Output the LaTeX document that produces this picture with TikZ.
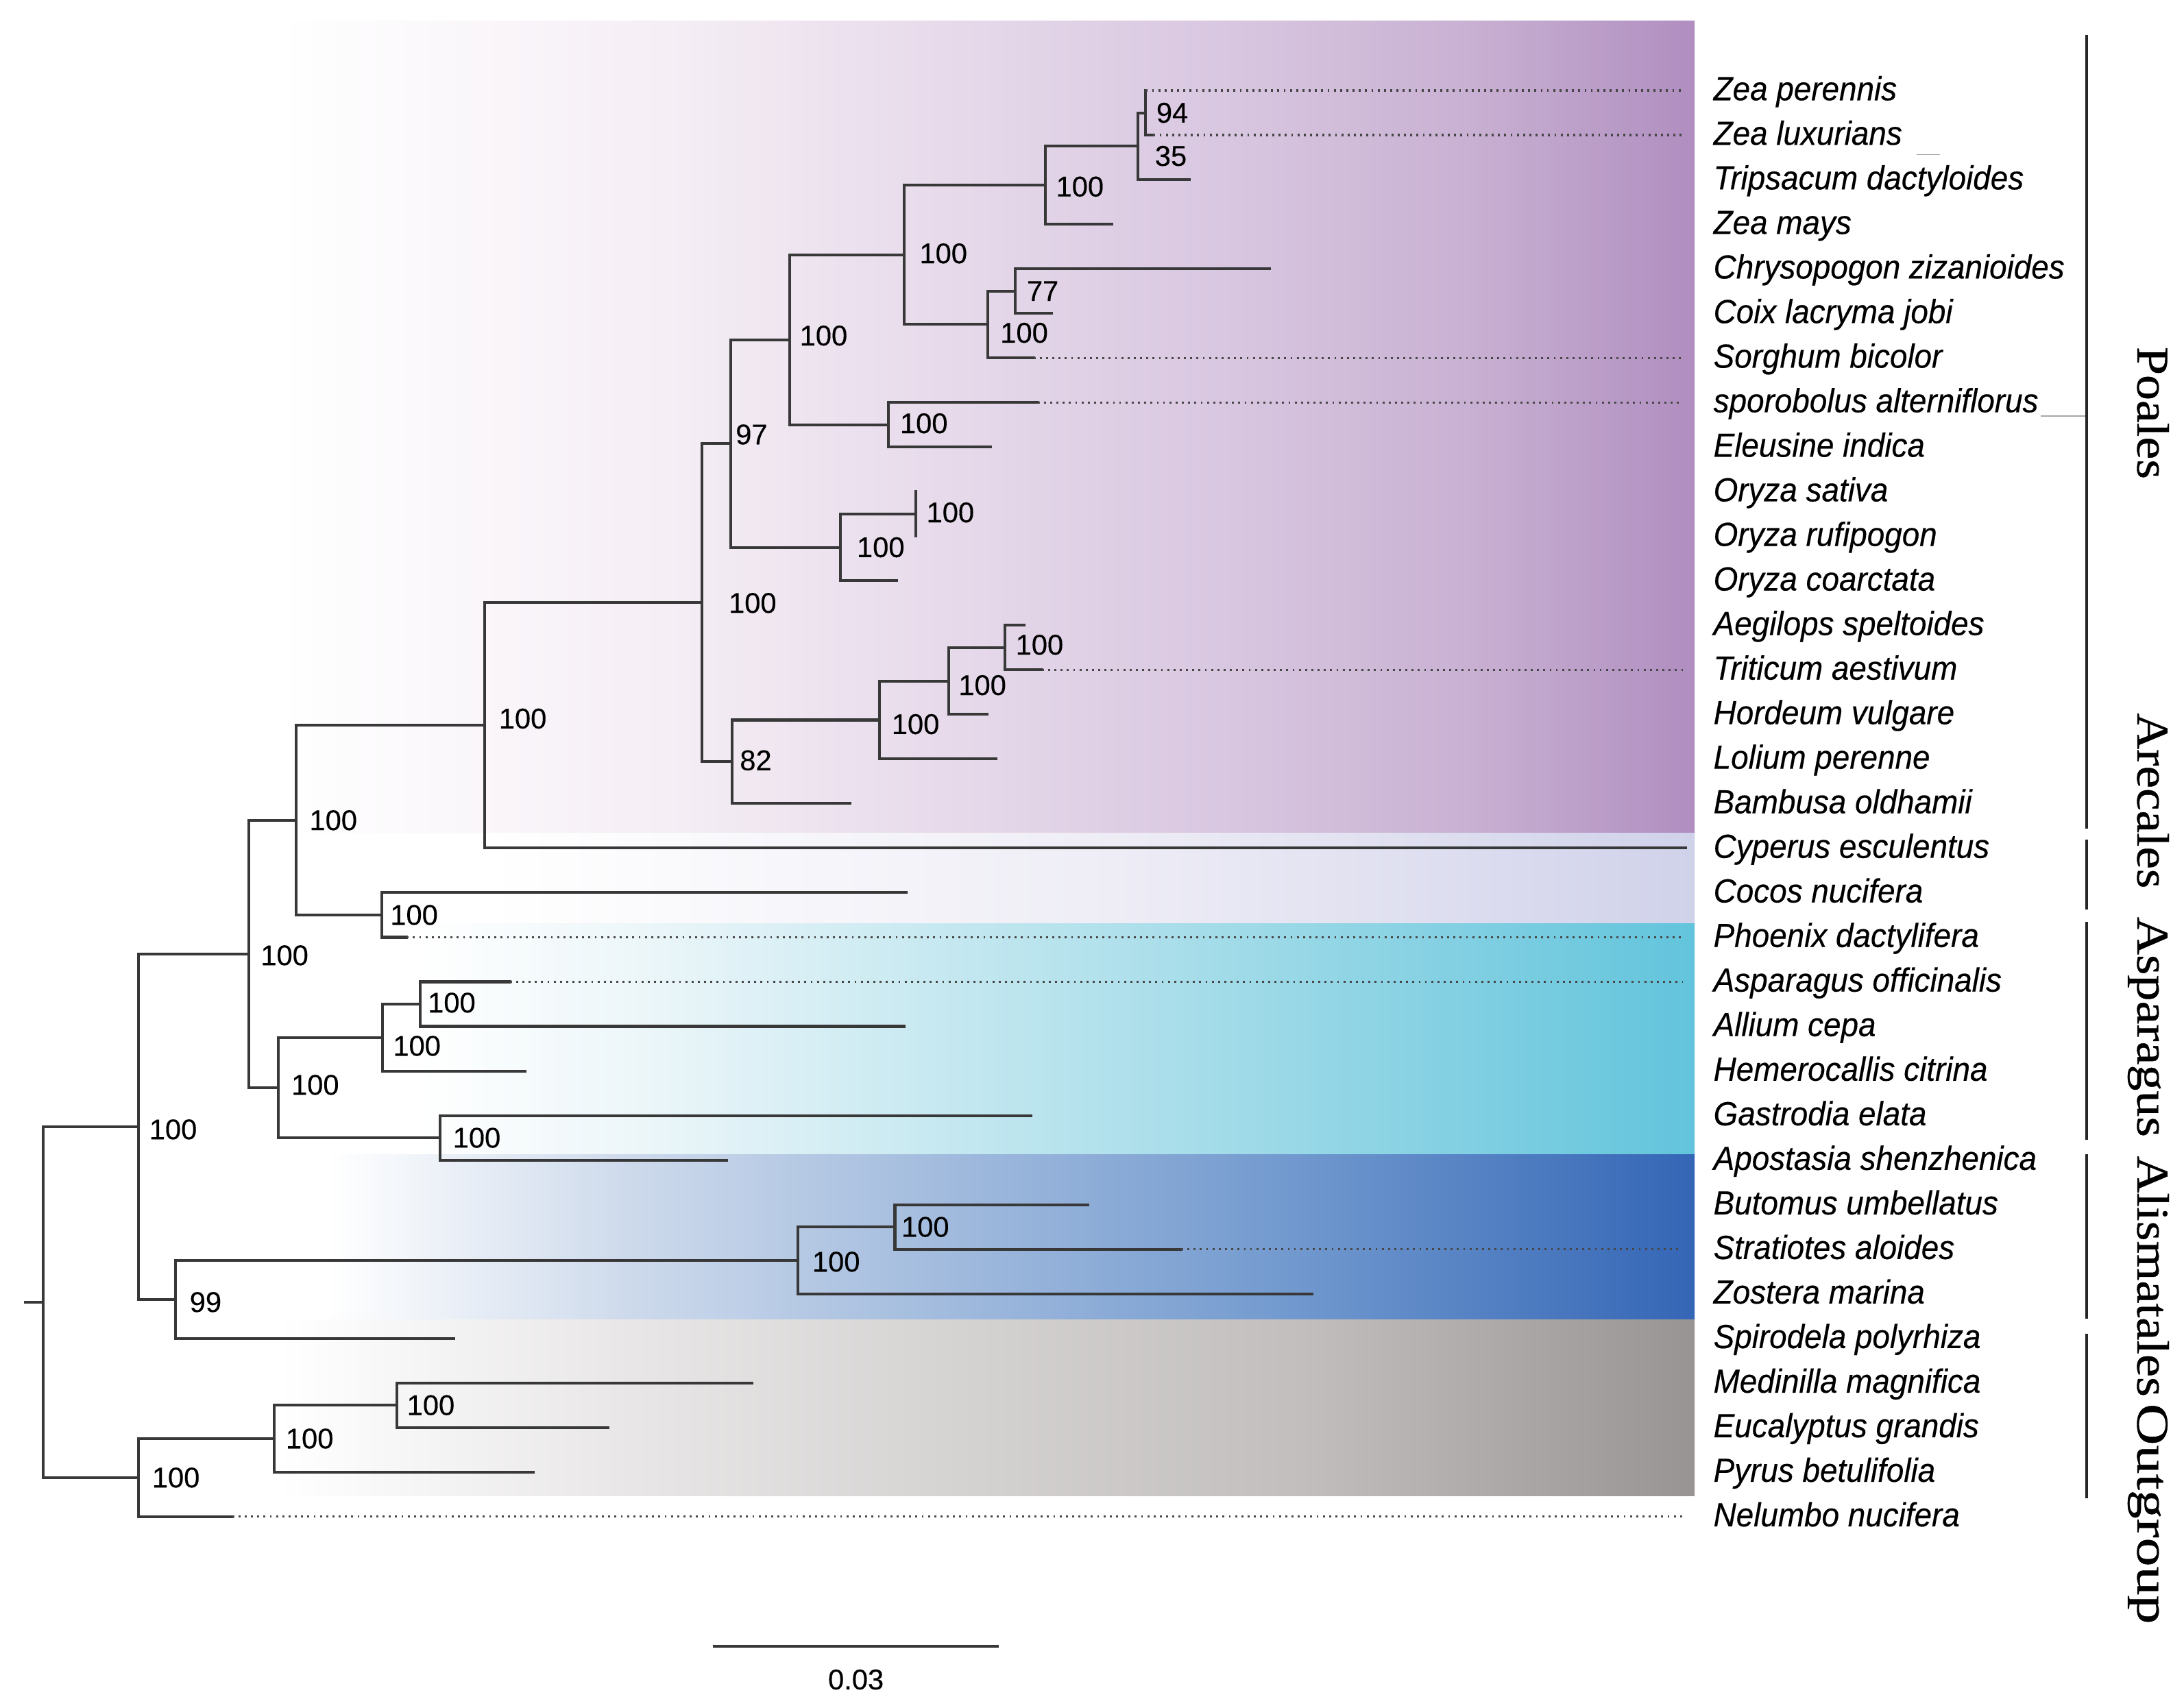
\documentclass[tikz,border=0pt]{standalone}
\usepackage{fontspec}
\usepackage{graphicx}
\newfontfamily\taxfont[FakeStretch=0.94,FakeBold=0.35]{Liberation Sans}
\newfontfamily\bsfont[FakeBold=0.3]{Liberation Sans}
\newfontfamily\cladefont[FakeBold=0.6]{Liberation Serif}
\definecolor{pu1}{RGB}{245,238,245}
\definecolor{pu2}{RGB}{216,198,224}
\definecolor{pu3}{RGB}{200,176,210}
\definecolor{pu4}{RGB}{176,142,192}
\definecolor{la1}{RGB}{238,237,246}
\definecolor{la2}{RGB}{208,210,234}
\definecolor{cy1}{RGB}{236,246,249}
\definecolor{cy2}{RGB}{170,222,234}
\definecolor{cy3}{RGB}{98,196,220}
\definecolor{bl1}{RGB}{207,219,236}
\definecolor{bl2}{RGB}{112,152,206}
\definecolor{bl3}{RGB}{52,102,182}
\definecolor{gr1}{RGB}{233,231,231}
\definecolor{gr2}{RGB}{193,190,189}
\definecolor{gr3}{RGB}{152,148,147}
\newcommand{\bandseg}[6]{\shade[left color=#4,right color=#6] (#3,#1) rectangle ({#5+1},#2);}
\tikzset{
  branch/.style={line width=2pt, draw=black!78, line cap=rect},
  dotline/.style={line width=1.6pt, draw=black!72, dash pattern=on 1.4pt off 3.1pt},
  taxon/.style={anchor=base west, inner sep=0pt, font=\taxfont\itshape\fontsize{24}{24}\selectfont},
  boot/.style={anchor=west, inner sep=0pt, font=\bsfont\fontsize{20.5}{20.5}\selectfont},
  clade/.style={anchor=base, rotate=-90, inner sep=0pt, font=\cladefont\fontsize{32.5}{32.5}\selectfont},
  cladebar/.style={line width=2.2pt, draw=black!85},
  faint/.style={line width=0.8pt, draw=black!35},
}
\begin{document}
\begin{tikzpicture}[x=1pt,y=-1pt]
\fill[white] (0,0) rectangle (1568,1226);
\useasboundingbox (0,0) rectangle (1568,1226);
% ---- coloured bands ----
% Poales (purple)
\bandseg{15}{598}{200}{white}{480}{pu1}
\bandseg{15}{598}{480}{pu1}{886}{pu2}
\bandseg{15}{598}{886}{pu2}{1058}{pu3}
\shade[left color=pu3,right color=pu4] (1058,15) rectangle (1216.6,598);
% Arecales (lavender)
\bandseg{598}{663}{350}{white}{800}{la1}
\shade[left color=la1,right color=la2] (800,598) rectangle (1216.6,663);
% Asparagales (cyan)
\bandseg{663}{829}{300}{white}{460}{cy1}
\bandseg{663}{829}{460}{cy1}{836}{cy2}
\shade[left color=cy2,right color=cy3] (836,663) rectangle (1216.6,829);
% Alismatales (blue)
\bandseg{829}{947.6}{235}{white}{443}{bl1}
\bandseg{829}{947.6}{443}{bl1}{935}{bl2}
\shade[left color=bl2,right color=bl3] (935,829) rectangle (1216.6,947.6);
% Outgroup (grey)
\bandseg{947.6}{1074}{200}{white}{443}{gr1}
\bandseg{947.6}{1074}{443}{gr1}{935}{gr2}
\shade[left color=gr2,right color=gr3] (935,947.6) rectangle (1216.6,1074);

% ---- internal nodes ----
\coordinate (rs) at (18,935);
\coordinate (R) at (31,935);
\coordinate (A) at (99.5,809);
\coordinate (B) at (178.6,684.9);
\coordinate (C) at (212.5,588.9);
\coordinate (D) at (348,520.9);
\coordinate (E) at (504,432.75);
\coordinate (F) at (524.7,318.5);
\coordinate (G) at (567,244);
\coordinate (H) at (649,183);
\coordinate (I) at (750.6,133);
\coordinate (J) at (817,105);
\coordinate (K) at (822.6,81);
\coordinate (L) at (709,233);
\coordinate (M) at (729,209);
\coordinate (N) at (637.6,305);
\coordinate (O) at (603.6,393);
\coordinate (P) at (657.5,369);
\coordinate (Q) at (525.6,547);
\coordinate (S) at (631.2,517);
\coordinate (T) at (681,489);
\coordinate (U) at (721.5,465);
\coordinate (V) at (274,657);
\coordinate (W) at (200,781);
\coordinate (X) at (274.6,745);
\coordinate (Y) at (301.8,721);
\coordinate (Z) at (316,817);
\coordinate (AA) at (126,933);
\coordinate (AB) at (573,905);
\coordinate (AC) at (642.5,881);
\coordinate (AD) at (99.5,1061);
\coordinate (AE) at (197,1033);
\coordinate (AF) at (285,1009);

% ---- tips ----
\foreach \i/\x in {0/822.6,1/828,2/853.8,3/798,4/911.6,5/755,6/742,7/745,8/711,9/657.5,10/657.5,11/643.7,12/735.3,13/748,14/708.6,15/715,16/610,17/1210,18/650.6,19/292,20/366,21/649,22/377,23/740,24/521.5,25/781,26/848,27/942,28/326,29/540,30/436.5,31/383,32/166.7}
  \coordinate (t\i) at (\x,{65+32*\i});
\foreach \i in {0,1,6,7,13,19,20,26,32}
  \coordinate (d\i) at (1208,{65+32*\i});

% ---- branches ----
\draw[branch] (rs) -- (R);
\foreach \p/\c in {R/A,R/AD,A/B,A/AA,B/C,B/W,C/D,C/V,D/E,D/t17,E/F,E/Q,F/G,F/O,G/H,G/N,H/I,H/L,I/J,I/t3,J/K,J/t2,K/t0,K/t1,L/M,L/t6,M/t4,M/t5,N/t7,N/t8,O/P,O/t11,P/t9,P/t10,Q/S,Q/t16,S/T,S/t15,T/U,T/t14,U/t12,U/t13,V/t18,V/t19,W/X,W/Z,X/Y,X/t22,Y/t20,Y/t21,Z/t23,Z/t24,AA/AB,AA/t28,AB/AC,AB/t27,AC/t25,AC/t26,AD/AE,AD/t32,AE/AF,AE/t31,AF/t29,AF/t30}
  \draw[branch] (\p) |- (\c);
\foreach \i in {0,1,6,7,13,19,20,26,32}
  \draw[dotline] (t\i) -- (d\i);

% ---- bootstrap values ----
\node[boot] (bK) at (830,81) {94};
\node[boot] (bJ) at (829,112) {35};
\node[boot] (bI) at (758,134) {100};
\node[boot] (bH) at (660,182) {100};
\node[boot] (bM) at (737,209) {77};
\node[boot] (bL) at (718,239) {100};
\node[boot] (bG) at (574,241) {100};
\node[boot] (bN) at (646,304) {100};
\node[boot] (bF) at (528,312) {97};
\node[boot] (bP) at (665,368) {100};
\node[boot] (bO) at (615,393) {100};
\node[boot] (bE) at (523,433) {100};
\node[boot] (bU) at (729,463) {100};
\node[boot] (bT) at (688,492) {100};
\node[boot] (bS) at (640,520) {100};
\node[boot] (bQ) at (531,546) {82};
\node[boot] (bD) at (358,516) {100};
\node[boot] (bC) at (222,589) {100};
\node[boot] (bV) at (280,657) {100};
\node[boot] (bB) at (187,686) {100};
\node[boot] (bY) at (307,720) {100};
\node[boot] (bX) at (282,751) {100};
\node[boot] (bW) at (209,779) {100};
\node[boot] (bZ) at (325,817) {100};
\node[boot] (bA) at (107,811) {100};
\node[boot] (bAA) at (136,935) {99};
\node[boot] (bAB) at (583,906) {100};
\node[boot] (bAC) at (647,881) {100};
\node[boot] (bAF) at (292,1009) {100};
\node[boot] (bAE) at (205,1033) {100};
\node[boot] (bAD) at (109,1061) {100};

% ---- taxon labels ----
\foreach \i/\nm in {0/Zea perennis,1/Zea luxurians,2/Tripsacum dactyloides,3/Zea mays,4/Chrysopogon zizanioides,5/Coix lacryma jobi,6/Sorghum bicolor,7/sporobolus alterniflorus,8/Eleusine indica,9/Oryza sativa,10/Oryza rufipogon,11/Oryza coarctata,12/Aegilops speltoides,13/Triticum aestivum,14/Hordeum vulgare,15/Lolium perenne,16/Bambusa oldhamii,17/Cyperus esculentus,18/Cocos nucifera,19/Phoenix dactylifera,20/Asparagus officinalis,21/Allium cepa,22/Hemerocallis citrina,23/Gastrodia elata,24/Apostasia shenzhenica,25/Butomus umbellatus,26/Stratiotes aloides,27/Zostera marina,28/Spirodela polyrhiza,29/Medinilla magnifica,30/Eucalyptus grandis,31/Pyrus betulifolia,32/Nelumbo nucifera}
  \node[taxon] (lab\i) at (1230,{65+32*\i+7}) {\nm};

% faint stray strokes
\coordinate (f1a) at (1376,111); \coordinate (f1b) at (1393,111);
\coordinate (f2a) at (1465,298.6); \coordinate (f2b) at (1498,298.6);
\draw[faint] (f1a) -- (f1b);
\draw[faint] (f2a) -- (f2b);

% ---- clade bars ----
\coordinate (p1) at (1498,25);   \coordinate (p2) at (1498,595);
\coordinate (a1) at (1498,603);  \coordinate (a2) at (1498,653);
\coordinate (s1) at (1498,662);  \coordinate (s2) at (1498,818.5);
\coordinate (m1) at (1498,829);  \coordinate (m2) at (1498,947);
\coordinate (o1) at (1498,957.7);\coordinate (o2) at (1498,1076);
\draw[cladebar] (p1) -- (p2);
\draw[cladebar] (a1) -- (a2);
\draw[cladebar] (s1) -- (s2);
\draw[cladebar] (m1) -- (m2);
\draw[cladebar] (o1) -- (o2);

% ---- clade names ----
\node[clade] (cPo) at (1534.6,296.5) {\scalebox{1.12}[1]{Poales}};
\node[clade] (cAr) at (1534.6,575) {\scalebox{1.108}[1]{Arecales}};
\node[clade] (cAs) at (1534.6,737.5) {\scalebox{1.152}[1]{Asparagus}};
\node[clade] (cAl) at (1534.6,916.5) {\scalebox{1.127}[1]{Alismatales}};
\node[clade] (cOu) at (1534.6,1087) {\scalebox{1.27}[1]{Outgroup}};

% ---- scale bar ----
\coordinate (sb1) at (513,1182);
\coordinate (sb2) at (716,1182);
\draw[branch] (sb1) -- (sb2);
\node[boot,anchor=center] (sbl) at (614.5,1206) {0.03};
\end{tikzpicture}
\end{document}
